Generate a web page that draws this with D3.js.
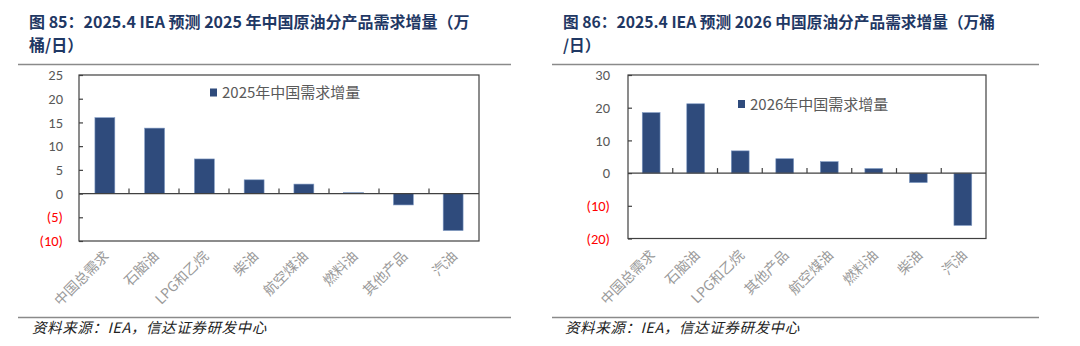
<!DOCTYPE html>
<html>
<head>
<meta charset="utf-8">
<script src="https://cdn.jsdelivr.net/npm/d3@7"></script>
<style>
  html, body { margin: 0; padding: 0; background: #fff; }
  svg { display: block; }
</style>
</head>
<body>
<svg id="chart" width="1080" height="346"></svg>
<script>
// Chart 85: 2025 demand growth by product (kb/d)
const categories2025 = ["中国总需求", "石脑油", "LPG和乙烷", "柴油", "航空煤油", "燃料油", "其他产品", "汽油"];
const values2025 = [16, 13.8, 7.3, 2.9, 2.0, 0.2, -2.4, -7.8];
const ticks2025 = [-10, -5, 0, 5, 10, 15, 20, 25];

// Chart 86: 2026 demand growth by product (kb/d)
const categories2026 = ["中国总需求", "石脑油", "LPG和乙烷", "其他产品", "航空煤油", "燃料油", "柴油", "汽油"];
const values2026 = [18.5, 21.2, 6.8, 4.4, 3.5, 1.4, -2.9, -16];
const ticks2026 = [-20, -10, 0, 10, 20, 30];

const titles = [
  ["图 85：2025.4 IEA 预测 2025 年中国原油分产品需求增量（万", "桶/日）"],
  ["图 86：2025.4 IEA 预测 2026 中国原油分产品需求增量（万桶", "/日）"]
];
const legendLabels = ["2025年中国需求增量", "2026年中国需求增量"];
const sourceText = "资料来源：IEA，信达证券研发中心";

const svg = d3.select("#chart");
const BAR = "#2f4b7c";
const GREY_TEXT = "#595959";
const fmt = v => v < 0 ? "(" + Math.abs(v) + ")" : String(v);

function panel(opt) {
  const g = svg.append("g");

  // title
  const t = g.append("text")
    .attr("font-family", "'Noto Sans CJK SC', 'Noto Sans', sans-serif")
    .attr("font-weight", "bold")
    .attr("font-size", opt.titleSize)
    .attr("fill", "#1f3864");
  opt.title.forEach((line, i) => {
    t.append("tspan").attr("x", opt.titleX).attr("y", 28 + i * 23).text(line);
  });

  // rules above and below the chart
  g.append("line").attr("x1", opt.ruleX0).attr("x2", opt.ruleX1)
    .attr("y1", 64.5).attr("y2", 64.5).attr("stroke", "#8a8a8a").attr("stroke-width", 1.5);
  g.append("line").attr("x1", opt.ruleX0).attr("x2", opt.ruleX1)
    .attr("y1", 317.5).attr("y2", 317.5).attr("stroke", "#8a8a8a").attr("stroke-width", 1.5);

  const x = d3.scaleBand().domain(opt.categories).range([opt.left, opt.right]).paddingInner(0.6).paddingOuter(0.32);
  const y = d3.scaleLinear().domain(opt.domain).range([opt.bottom, opt.top]);

  // bars
  g.selectAll("rect.bar").data(opt.values).join("rect")
    .attr("class", "bar")
    .attr("x", (d, i) => x(opt.categories[i]))
    .attr("width", x.bandwidth())
    .attr("y", d => y(Math.max(0, d)))
    .attr("height", d => Math.abs(y(d) - y(0)))
    .attr("fill", BAR)
    .attr("stroke", "#7f9ac4")
    .attr("stroke-width", 0.6);

  // plot frame
  g.append("rect")
    .attr("x", opt.left).attr("y", opt.top)
    .attr("width", opt.right - opt.left).attr("height", opt.bottom - opt.top)
    .attr("fill", "none").attr("stroke", "#404040").attr("stroke-width", 1.2);

  // y axis: inside ticks, labels in grey / red for negatives
  const yAxis = d3.axisLeft(y).tickValues(opt.ticks).tickSize(-4).tickPadding(opt.tickPad).tickFormat(fmt);
  const ya = g.append("g").attr("transform", `translate(${opt.left},0)`).call(yAxis);
  ya.select(".domain").remove();
  ya.selectAll(".tick line").attr("stroke", "#404040").attr("stroke-width", 1.2);
  ya.selectAll(".tick text")
    .attr("font-family", "Carlito, 'Liberation Sans', 'Noto Sans', sans-serif")
    .attr("font-size", 14.5)
    .attr("fill", d => d < 0 ? "#ff0000" : GREY_TEXT);

  // zero line with category divider ticks
  const zy = y(0);
  g.append("line").attr("x1", opt.left).attr("x2", opt.right)
    .attr("y1", zy).attr("y2", zy).attr("stroke", "#404040").attr("stroke-width", 1.2);
  const dividers = d3.range(1, opt.categories.length).map(i => opt.left + (opt.right - opt.left) * i / opt.categories.length);
  g.selectAll("line.div").data(dividers).join("line")
    .attr("class", "div")
    .attr("x1", d => d).attr("x2", d => d)
    .attr("y1", zy).attr("y2", zy - 5)
    .attr("stroke", "#404040").attr("stroke-width", 1.2);

  // category labels, rotated
  g.selectAll("text.cat").data(opt.categories).join("text")
    .attr("class", "cat")
    .attr("transform", d => `translate(${x(d) + x.bandwidth() / 2 + 5},${opt.labelY}) rotate(-45)`)
    .attr("text-anchor", "end")
    .attr("font-family", "'Noto Sans CJK SC', sans-serif")
    .attr("font-size", 14)
    .attr("fill", "#9a9a9a")
    .text(d => d);

  // legend
  g.append("rect").attr("x", opt.legendX).attr("y", opt.legendY - 4)
    .attr("width", 7).attr("height", 8).attr("fill", BAR);
  g.append("text").attr("x", opt.legendX + 12).attr("y", opt.legendY + 5.5)
    .attr("font-family", "'Noto Sans CJK SC', sans-serif")
    .attr("font-size", 15)
    .attr("fill", GREY_TEXT)
    .text(opt.legend);

  // source note
  g.append("text").attr("x", opt.sourceX).attr("y", 333)
    .attr("font-family", "'Noto Sans CJK SC', sans-serif")
    .attr("font-size", 14.5)
    .attr("font-style", "italic")
    .attr("letter-spacing", 0.6)
    .attr("fill", "#222")
    .text(sourceText);
}

panel({
  title: titles[0], titleX: 29, titleSize: 16, ruleX0: 18, ruleX1: 511,
  categories: categories2025, values: values2025, ticks: ticks2025, tickPad: 16,
  domain: [-10, 25], left: 79, right: 479, top: 75, bottom: 241,
  labelY: 257, legendX: 210, legendY: 92.5, legend: legendLabels[0], sourceX: 32
});

panel({
  title: titles[1], titleX: 563, titleSize: 15.7, ruleX0: 552, ruleX1: 1039,
  categories: categories2026, values: values2026, ticks: ticks2026, tickPad: 18,
  domain: [-20, 30], left: 628, right: 986, top: 75, bottom: 238.5,
  labelY: 256, legendX: 738, legendY: 104, legend: legendLabels[1], sourceX: 565
});
</script>
</body>
</html>
